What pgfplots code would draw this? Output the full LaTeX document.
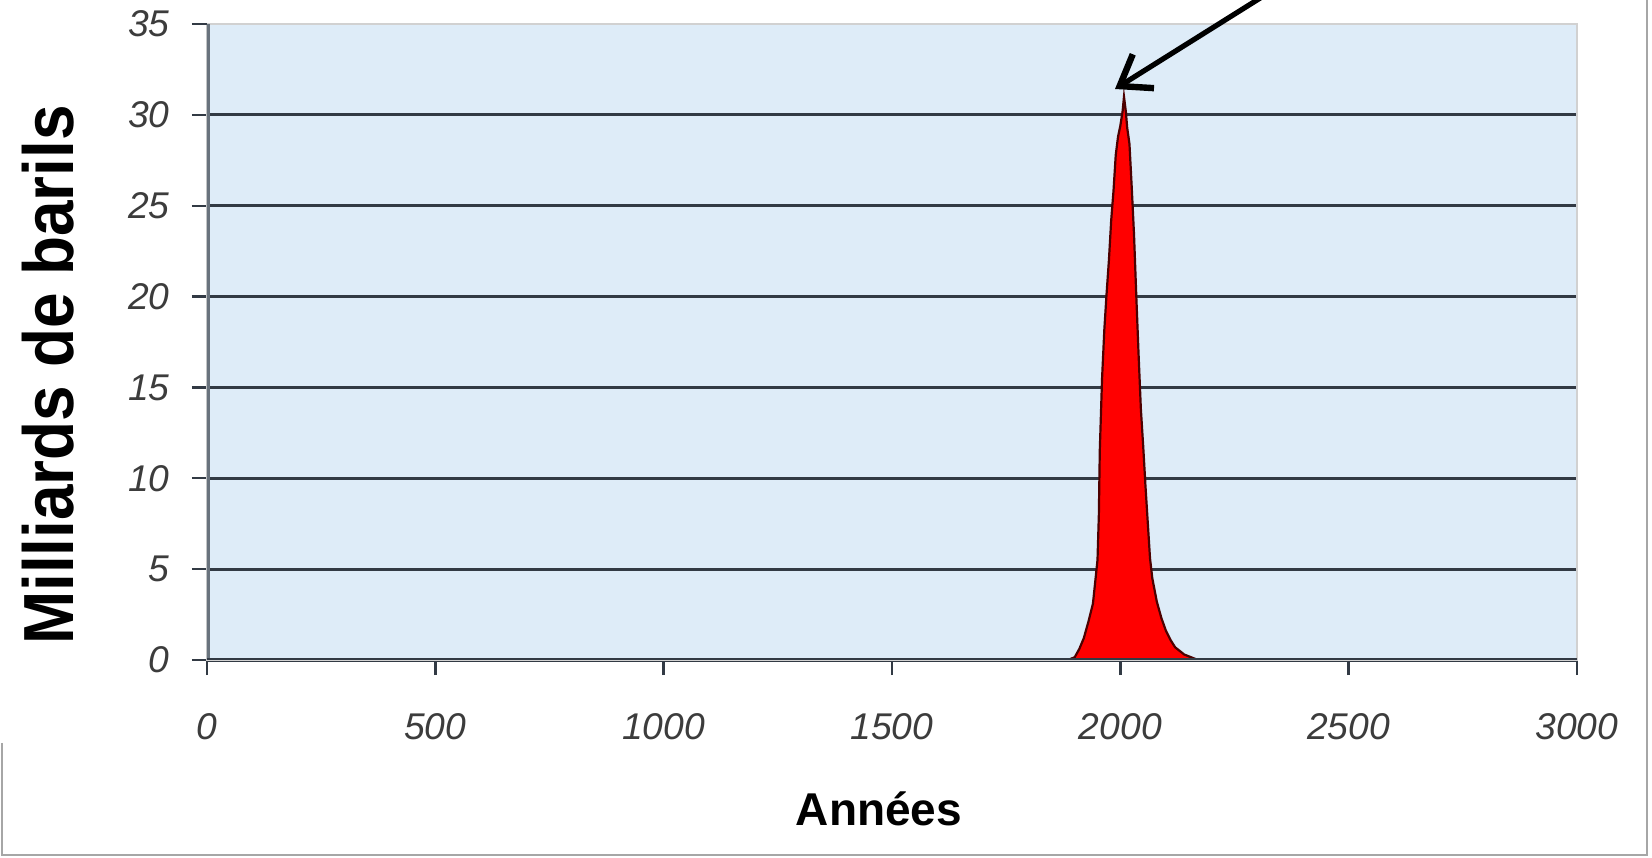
\documentclass[border=0pt]{standalone}
\usepackage{fontspec}
\setmainfont{Liberation Sans}
\newfontfamily\labelfont[FakeStretch=0.9]{Liberation Sans}
\usepackage{pgfplots}
\pgfplotsset{compat=1.18}
\usepackage{pgfplotstable}
\usetikzlibrary{arrows.meta}

\definecolor{plotbg}{RGB}{222,236,248}
\definecolor{gridc}{RGB}{50,58,68}
\definecolor{axisgray}{RGB}{105,115,125}
\definecolor{ticktext}{RGB}{60,60,60}

% World oil production (billions of barrels per year)
\pgfplotstableread{
year value
1880 0
1890 0.05
1900 0.15
1910 0.6
1920 1.2
1930 2.1
1940 3.1
1945 4.3
1950 5.5
1953 8.0
1955 11.5
1960 15.5
1965 18.2
1970 20.2
1975 22.0
1980 24.2
1985 25.8
1990 27.8
1995 28.8
2000 29.4
2005 30.2
2008 31.0
2012 30.2
2015 29.3
2020 28.4
2025 26.0
2030 23.4
2035 20.0
2040 16.8
2045 13.8
2050 11.8
2055 9.6
2060 7.6
2065 5.6
2070 4.5
2080 3.2
2090 2.3
2100 1.6
2110 1.1
2120 0.7
2140 0.3
2160 0.1
2170 0
}\oilprod

\begin{document}
\begin{tikzpicture}[x=0.25pt,y=0.25pt]
\fill[white] (0,0) rectangle (1652,858);
\path[use as bounding box] (0,0) rectangle (1652,858);

% outer chart frame
\draw[black!35, line width=0.6pt] (2,115) -- (2,3) -- (1647,3) -- (1647,858);

\begin{axis}[
  at={(51.75pt,49.5pt)}, anchor=south west,
  width=342.5pt, height=159pt, scale only axis,
  xmin=0, xmax=3000, ymin=0, ymax=35,
  xtick={0,500,...,3000},
  ytick={0,5,...,30},
  extra y ticks={35},
  extra tick style={grid=none},
  ymajorgrids,
  major grid style={gridc, line width=0.8pt},
  axis background/.style={fill=plotbg},
  axis line style={draw=black!18, line width=0.5pt},
  tick align=outside,
  major tick length=3.8pt,
  tick style={gridc, line width=0.6pt},
  xtick pos=bottom, ytick pos=left,
  ticklabel style={font=\fontsize{9.3}{10}\selectfont\itshape, text=ticktext},
  xticklabel style={yshift=-6pt},
  yticklabel style={xshift=-2pt},
  /pgf/number format/assume math mode=true,
  /pgf/number format/1000 sep={},
]
\addplot[fill=red, draw=red!30!black, line width=0.55pt] table[x=year, y=value] {\oilprod} \closedcycle;
\draw[axisgray, line width=1.3pt] (rel axis cs:0,0) -- (rel axis cs:0,1);
\draw[gridc, line width=1pt] (rel axis cs:0,0) -- (rel axis cs:1,0);
\end{axis}

% axis titles
\node[rotate=90, anchor=base, font=\labelfont\bfseries\fontsize{17.75}{18}\selectfont] at (74,483) {Milliards de barils};
\node[anchor=base, font=\bfseries\fontsize{11.5}{12}\selectfont] at (879,33) {Années};

% pointer to the production peak
\begin{scope}
\clip (0,0) rectangle (1652,858);
\draw[line width=1.3pt, -{Straight Barb[length=7pt,width=10pt,line width=1.6pt]}] (1289,878) -- (1115,769);
\end{scope}
\end{tikzpicture}
\end{document}
